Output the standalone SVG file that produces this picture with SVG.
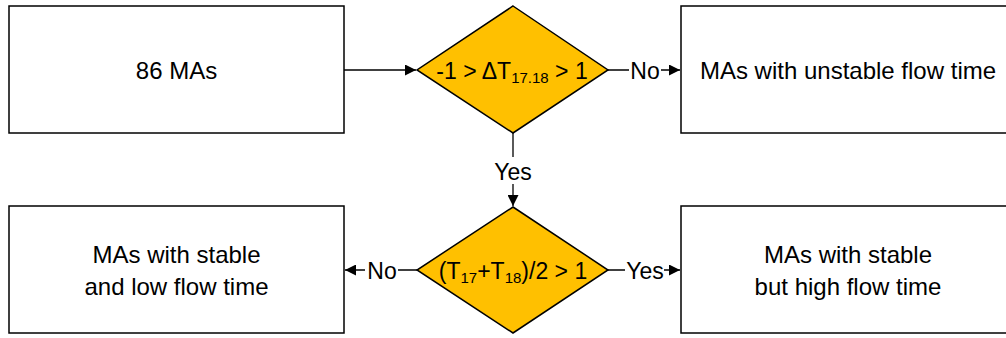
<svg xmlns="http://www.w3.org/2000/svg" width="1006" height="338" viewBox="0 0 1006 338">
<style>
.box{fill:#fff;stroke:#000;stroke-width:1.5}
.dia{fill:#FFC000;stroke:#000;stroke-width:1.5}
.t{font-family:"Liberation Sans",Arial,sans-serif;font-size:24px;fill:#000;text-anchor:middle}
.td{font-family:"Liberation Sans",Arial,sans-serif;font-size:23px;fill:#000;text-anchor:middle}
.lbl{font-family:"Liberation Sans",Arial,sans-serif;font-size:23px;fill:#000;text-anchor:middle}
.ln{stroke:#000;stroke-width:1.3;fill:none}
.bg{fill:#fff}
</style>
<defs>
<marker id="ah" viewBox="0 0 10 10" refX="10" refY="5" markerWidth="13" markerHeight="11" markerUnits="userSpaceOnUse" orient="auto">
<path d="M0,0 L10,5 L0,10 Z" fill="#000"/>
</marker>
</defs>
<rect width="1006" height="338" fill="#fff"/>
<g id="connectors">
<line class="ln" x1="344" y1="70" x2="416" y2="70" marker-end="url(#ah)"/>
<line class="ln" x1="608" y1="70" x2="680" y2="70" marker-end="url(#ah)"/>
<line class="ln" x1="513" y1="133" x2="513" y2="206" marker-end="url(#ah)"/>
<line class="ln" x1="417" y1="270" x2="345" y2="270" marker-end="url(#ah)"/>
<line class="ln" x1="608" y1="270" x2="680" y2="270" marker-end="url(#ah)"/>
<rect class="bg" x="629" y="57" width="32" height="27"/>
<text class="lbl" x="645" y="79">No</text>
<rect class="bg" x="494" y="157" width="39" height="27"/>
<text class="lbl" x="513" y="180">Yes</text>
<rect class="bg" x="365" y="257" width="33" height="27"/>
<text class="lbl" x="382" y="279">No</text>
<rect class="bg" x="625" y="257" width="39" height="27"/>
<text class="lbl" x="645" y="279">Yes</text>
</g>
<g id="n_start">
<rect class="box" x="9" y="6" width="335" height="127"/>
<text class="t" x="176.5" y="79">86 MAs</text>
</g>
<g id="n_unstable">
<rect class="box" x="681" y="6" width="335" height="127"/>
<text class="t" x="848" y="79">MAs with unstable flow time</text>
</g>
<g id="d1">
<polygon class="dia" points="513,6 608,70 513,133 417,70"/>
<text class="td" x="512" y="79">-1 &gt; ΔT<tspan font-size="15" dy="4">17.18</tspan><tspan dy="-4"> &gt; 1</tspan></text>
</g>
<g id="d2">
<polygon class="dia" points="513,207 608,270 513,333 417,270"/>
<text class="td" x="513" y="279">(T<tspan font-size="15" dy="4">17</tspan><tspan dy="-4">+T</tspan><tspan font-size="15" dy="4">18</tspan><tspan dy="-4">)/2 &gt; 1</tspan></text>
</g>
<g id="n_low">
<rect class="box" x="9" y="206" width="335" height="127"/>
<text class="t" x="176.5" y="263">MAs with stable</text>
<text class="t" x="176.5" y="295">and low flow time</text>
</g>
<g id="n_high">
<rect class="box" x="681" y="206" width="335" height="127"/>
<text class="t" x="848" y="263">MAs with stable</text>
<text class="t" x="848" y="295">but high flow time</text>
</g>
</svg>
